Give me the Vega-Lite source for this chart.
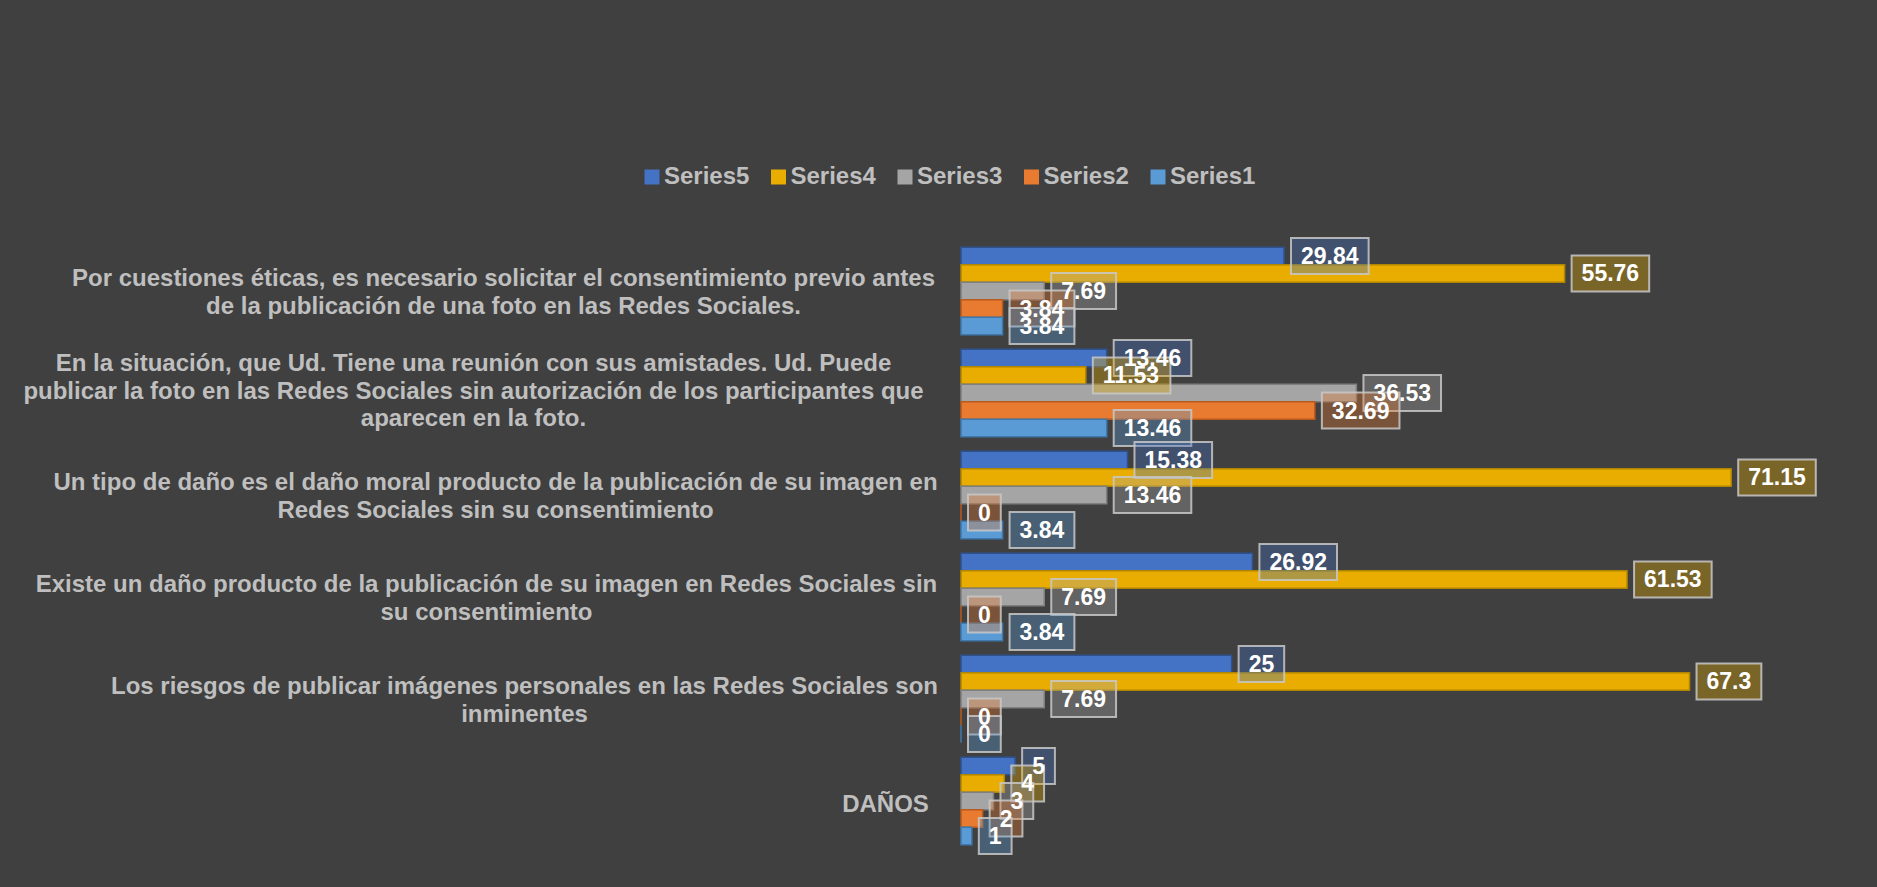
{
  "$schema": "https://vega.github.io/schema/vega-lite/v6.json",
  "width": 866,
  "height": 612,
  "autosize": {"type": "none"},
  "padding": {"left": 961, "top": 240, "right": 50, "bottom": 35},
  "background": "#404040",
  "config": {"view": {"stroke": null}, "font": "Liberation Sans"},
  "data": {"values": [
    {"category": "Por cuestiones éticas, es necesario solicitar el consentimiento previo antes|de la publicación de una foto en las Redes Sociales.", "series": "Series5", "value": 29.84},
    {"category": "Por cuestiones éticas, es necesario solicitar el consentimiento previo antes|de la publicación de una foto en las Redes Sociales.", "series": "Series4", "value": 55.76},
    {"category": "Por cuestiones éticas, es necesario solicitar el consentimiento previo antes|de la publicación de una foto en las Redes Sociales.", "series": "Series3", "value": 7.69},
    {"category": "Por cuestiones éticas, es necesario solicitar el consentimiento previo antes|de la publicación de una foto en las Redes Sociales.", "series": "Series2", "value": 3.84},
    {"category": "Por cuestiones éticas, es necesario solicitar el consentimiento previo antes|de la publicación de una foto en las Redes Sociales.", "series": "Series1", "value": 3.84},
    {"category": "En la situación, que Ud. Tiene una reunión con sus amistades. Ud. Puede|publicar la foto en las Redes Sociales sin autorización de los participantes que|aparecen en la foto.", "series": "Series5", "value": 13.46},
    {"category": "En la situación, que Ud. Tiene una reunión con sus amistades. Ud. Puede|publicar la foto en las Redes Sociales sin autorización de los participantes que|aparecen en la foto.", "series": "Series4", "value": 11.53},
    {"category": "En la situación, que Ud. Tiene una reunión con sus amistades. Ud. Puede|publicar la foto en las Redes Sociales sin autorización de los participantes que|aparecen en la foto.", "series": "Series3", "value": 36.53},
    {"category": "En la situación, que Ud. Tiene una reunión con sus amistades. Ud. Puede|publicar la foto en las Redes Sociales sin autorización de los participantes que|aparecen en la foto.", "series": "Series2", "value": 32.69},
    {"category": "En la situación, que Ud. Tiene una reunión con sus amistades. Ud. Puede|publicar la foto en las Redes Sociales sin autorización de los participantes que|aparecen en la foto.", "series": "Series1", "value": 13.46},
    {"category": "Un tipo de daño es el daño moral producto de la publicación de su imagen en|Redes Sociales sin su consentimiento", "series": "Series5", "value": 15.38},
    {"category": "Un tipo de daño es el daño moral producto de la publicación de su imagen en|Redes Sociales sin su consentimiento", "series": "Series4", "value": 71.15},
    {"category": "Un tipo de daño es el daño moral producto de la publicación de su imagen en|Redes Sociales sin su consentimiento", "series": "Series3", "value": 13.46},
    {"category": "Un tipo de daño es el daño moral producto de la publicación de su imagen en|Redes Sociales sin su consentimiento", "series": "Series2", "value": 0},
    {"category": "Un tipo de daño es el daño moral producto de la publicación de su imagen en|Redes Sociales sin su consentimiento", "series": "Series1", "value": 3.84},
    {"category": "Existe un daño producto de la publicación de su imagen en Redes Sociales sin|su consentimiento", "series": "Series5", "value": 26.92},
    {"category": "Existe un daño producto de la publicación de su imagen en Redes Sociales sin|su consentimiento", "series": "Series4", "value": 61.53},
    {"category": "Existe un daño producto de la publicación de su imagen en Redes Sociales sin|su consentimiento", "series": "Series3", "value": 7.69},
    {"category": "Existe un daño producto de la publicación de su imagen en Redes Sociales sin|su consentimiento", "series": "Series2", "value": 0},
    {"category": "Existe un daño producto de la publicación de su imagen en Redes Sociales sin|su consentimiento", "series": "Series1", "value": 3.84},
    {"category": "Los riesgos de publicar imágenes personales en las Redes Sociales son|inminentes", "series": "Series5", "value": 25},
    {"category": "Los riesgos de publicar imágenes personales en las Redes Sociales son|inminentes", "series": "Series4", "value": 67.3},
    {"category": "Los riesgos de publicar imágenes personales en las Redes Sociales son|inminentes", "series": "Series3", "value": 7.69},
    {"category": "Los riesgos de publicar imágenes personales en las Redes Sociales son|inminentes", "series": "Series2", "value": 0},
    {"category": "Los riesgos de publicar imágenes personales en las Redes Sociales son|inminentes", "series": "Series1", "value": 0},
    {"category": "DAÑOS", "series": "Series5", "value": 5},
    {"category": "DAÑOS", "series": "Series4", "value": 4},
    {"category": "DAÑOS", "series": "Series3", "value": 3},
    {"category": "DAÑOS", "series": "Series2", "value": 2},
    {"category": "DAÑOS", "series": "Series1", "value": 1}
  ]},
  "encoding": {
    "y": {
      "field": "category", "type": "nominal", "sort": null,
      "scale": {"paddingInner": 0.14, "paddingOuter": 0.07},
      "axis": {
        "title": null, "ticks": false, "domain": false, "grid": false,
        "labelExpr": "split(datum.label, '|')",
        "labelAlign": "center", "labelBaseline": "middle", "labelPadding": 0,
        "labelFont": "Liberation Sans", "labelFontWeight": "bold", "labelFontSize": 24,
        "labelLineHeight": 27.5, "labelColor": "#bfbfbf", "labelLimit": 2000,
        "encoding": {"labels": {
          "dx": {"value": {"expr": "indexof(datum.value,'Por')==0 ? -458 : indexof(datum.value,'En la')==0 ? -488 : indexof(datum.value,'Un tipo')==0 ? -466 : indexof(datum.value,'Existe')==0 ? -475 : indexof(datum.value,'Los riesgos')==0 ? -437 : -76"}},
          "dy": {"value": {"expr": "indexof(datum.value,'En la')==0 ? -29 : indexof(datum.value,'|')>=0 ? -12 : 4"}}
        }}
      }
    },
    "yOffset": {"field": "series", "type": "nominal", "sort": ["Series5", "Series4", "Series3", "Series2", "Series1"], "scale": {"paddingInner": 0, "paddingOuter": 0}},
    "x": {"field": "value", "type": "quantitative", "scale": {"domain": [0, 80], "nice": false}, "axis": null}
  },
  "layer": [
    {
      "mark": {"type": "bar", "strokeWidth": 1.5},
      "encoding": {
        "color": {"field": "series", "type": "nominal",
          "scale": {"domain": ["Series5", "Series4", "Series3", "Series2", "Series1"], "range": ["#4472c4", "#e8ad00", "#a5a5a5", "#e97b30", "#5b9bd5"]},
          "legend": {"orient": "none", "legendX": -321, "legendY": -75, "direction": "horizontal", "title": null,
            "symbolType": "square", "symbolSize": 225, "symbolStrokeWidth": 0, "labelFontSize": 24, "labelFont": "Liberation Sans",
            "labelFontWeight": "bold", "labelColor": "#bfbfbf", "columnPadding": 16.5, "labelOffset": 0, "padding": 0}},
        "stroke": {"field": "series", "type": "nominal",
          "scale": {"domain": ["Series5", "Series4", "Series3", "Series2", "Series1"], "range": ["#2f528f", "#b08600", "#7f7f7f", "#b85a1c", "#3f78ad"]},
          "legend": null}
      }
    },
    {
      "mark": {"type": "point", "filled": true, "fillOpacity": 0.35, "opacity": 1, "stroke": "#c8c8c8", "strokeOpacity": 0.85, "strokeWidth": 2, "size": 1296},
      "encoding": {
        "color": {"field": "series", "type": "nominal"},
        "xOffset": {"condition": [
          {"test": "datum.value == 11.53", "value": -22},
          {"test": "datum.value == 32.69", "value": -12}
        ], "value": 0},
        "shape": {
          "condition": [
            {"test": "length(toString(datum.value))==1", "value": "M0.389,-1H2.21V1H0.389Z"},
            {"test": "length(toString(datum.value))==2", "value": "M0.389,-1H2.92V1H0.389Z"},
            {"test": "length(toString(datum.value))==4", "value": "M0.389,-1H3.99V1H0.389Z"}
          ],
          "value": "M0.389,-1H4.70V1H0.389Z"
        }
      }
    },
    {
      "mark": {"type": "text", "align": "left", "baseline": "middle", "dx": 17, "dy": 1, "font": "Liberation Sans", "fontWeight": "bold", "fontSize": 23, "fill": "#ffffff"},
      "encoding": {
        "text": {"field": "value", "type": "nominal"},
        "xOffset": {"condition": [
          {"test": "datum.value == 11.53", "value": -22},
          {"test": "datum.value == 32.69", "value": -12}
        ], "value": 0}
      }
    }
  ]
}
